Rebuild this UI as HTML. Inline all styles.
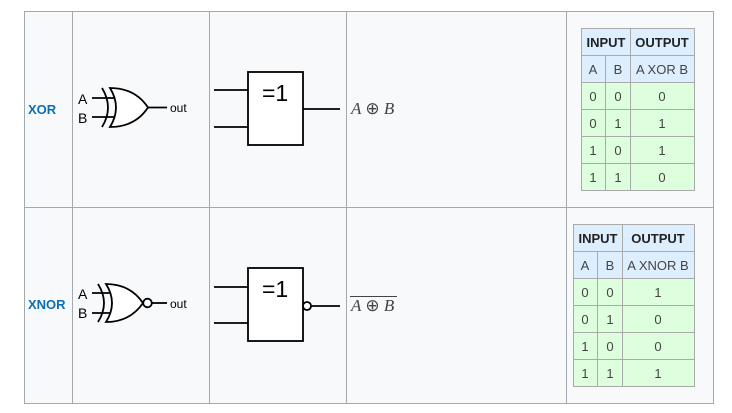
<!DOCTYPE html>
<html><head><meta charset="utf-8"><style>
html,body{margin:0;padding:0;background:#fff;}
svg{display:block;font-family:"Liberation Sans",sans-serif;}
</style></head><body>
<svg width="732" height="413" viewBox="0 0 732 413">
<g fill="#f8f9fa" stroke="#a2a9b1" stroke-width="1">
<rect x="24.5" y="11.5" width="689" height="196"/>
<rect x="24.5" y="207.5" width="689" height="196"/>
<line x1="72.5" y1="11" x2="72.5" y2="404"/>
<line x1="209.5" y1="11" x2="209.5" y2="404"/>
<line x1="346.5" y1="11" x2="346.5" y2="404"/>
<line x1="566.5" y1="11" x2="566.5" y2="404"/>
</g>

<!-- XOR row -->
<text x="28" y="114" font-size="13" font-weight="bold" fill="#0b6fb5">XOR</text>
<g stroke="#000" stroke-width="1.8" fill="none">
<line x1="92" y1="98" x2="116" y2="98"/><line x1="92" y1="117" x2="116" y2="117"/>
<path d="M102,88 Q114,107.5 102,127"/>
<path d="M110,88 Q135,88 148,107.5 Q135,127 110,127 Q122,107.5 110,88 Z" fill="#fff"/>
<line x1="148" y1="107.5" x2="167" y2="107.5"/>
</g>
<text x="78" y="104" font-size="14">A</text>
<text x="78" y="123" font-size="14">B</text>
<text x="170" y="112" font-size="12">out</text>
<g stroke="#000" stroke-width="1.8" fill="none">
<rect x="248" y="72" width="55" height="73" fill="#fff"/>
<line x1="214" y1="90" x2="248" y2="90"/><line x1="214" y1="127" x2="248" y2="127"/>
<line x1="303" y1="109" x2="340" y2="109"/>
</g>
<text x="262" y="101" font-size="23">=1</text>
<text x="351" y="114" font-size="17" font-family="Liberation Serif,serif" font-style="italic" fill="#444">A <tspan font-style="normal">⊕</tspan> B</text>

<g font-size="13" text-anchor="middle" fill="#444">
<rect x="581.5" y="28.5" width="113" height="54" fill="#ddeeff" stroke="#aaa"/>
<rect x="581.5" y="82.5" width="113" height="108" fill="#ddffdd" stroke="#aaa"/>
<g stroke="#aaa"><line x1="581" y1="55.5" x2="695" y2="55.5"/><line x1="581" y1="109.5" x2="695" y2="109.5"/><line x1="581" y1="136.5" x2="695" y2="136.5"/><line x1="581" y1="163.5" x2="695" y2="163.5"/><line x1="630.5" y1="28" x2="630.5" y2="191"/><line x1="605.5" y1="55" x2="605.5" y2="191"/></g>
<text x="606" y="47" font-weight="bold" fill="#222">INPUT</text><text x="662" y="47" font-weight="bold" fill="#222">OUTPUT</text>
<text x="593" y="74">A</text><text x="618" y="74">B</text><text x="662" y="74">A XOR B</text>
<text x="593" y="101">0</text><text x="618" y="101">0</text><text x="662" y="101">0</text>
<text x="593" y="128">0</text><text x="618" y="128">1</text><text x="662" y="128">1</text>
<text x="593" y="155">1</text><text x="618" y="155">0</text><text x="662" y="155">1</text>
<text x="593" y="182">1</text><text x="618" y="182">1</text><text x="662" y="182">0</text>
</g>

<!-- XNOR row -->
<text x="28" y="309" font-size="13" font-weight="bold" fill="#0b6fb5">XNOR</text>
<g stroke="#000" stroke-width="1.8" fill="none">
<line x1="92" y1="293" x2="112" y2="293"/><line x1="92" y1="313" x2="112" y2="313"/>
<path d="M98,284 Q110,303 98,322"/>
<path d="M106,284 Q130,284 143,303 Q130,322 106,322 Q118,303 106,284 Z" fill="#fff"/>
<circle cx="147.5" cy="303" r="4.3" fill="#fff"/>
<line x1="152" y1="303" x2="167" y2="303"/>
</g>
<text x="78" y="299" font-size="14">A</text>
<text x="78" y="318" font-size="14">B</text>
<text x="170" y="308" font-size="12">out</text>
<g stroke="#000" stroke-width="1.8" fill="none">
<rect x="248" y="268" width="55" height="73" fill="#fff"/>
<line x1="214" y1="287" x2="248" y2="287"/><line x1="214" y1="323" x2="248" y2="323"/>
<circle cx="307" cy="306" r="4" fill="#fff"/>
<line x1="311" y1="306" x2="340" y2="306"/>
</g>
<text x="262" y="297" font-size="23">=1</text>
<line x1="350" y1="296.5" x2="397" y2="296.5" stroke="#444" stroke-width="1"/>
<text x="351" y="311" font-size="17" font-family="Liberation Serif,serif" font-style="italic" fill="#444">A <tspan font-style="normal">⊕</tspan> B</text>

<g font-size="13" text-anchor="middle" fill="#444">
<rect x="573.5" y="224.5" width="121" height="54" fill="#ddeeff" stroke="#aaa"/>
<rect x="573.5" y="278.5" width="121" height="108" fill="#ddffdd" stroke="#aaa"/>
<g stroke="#aaa"><line x1="573" y1="251.5" x2="695" y2="251.5"/><line x1="573" y1="305.5" x2="695" y2="305.5"/><line x1="573" y1="332.5" x2="695" y2="332.5"/><line x1="573" y1="359.5" x2="695" y2="359.5"/><line x1="622.5" y1="224" x2="622.5" y2="387"/><line x1="597.5" y1="251" x2="597.5" y2="387"/></g>
<text x="598" y="243" font-weight="bold" fill="#222">INPUT</text><text x="658" y="243" font-weight="bold" fill="#222">OUTPUT</text>
<text x="585" y="270">A</text><text x="610" y="270">B</text><text x="658" y="270">A XNOR B</text>
<text x="585" y="297">0</text><text x="610" y="297">0</text><text x="658" y="297">1</text>
<text x="585" y="324">0</text><text x="610" y="324">1</text><text x="658" y="324">0</text>
<text x="585" y="351">1</text><text x="610" y="351">0</text><text x="658" y="351">0</text>
<text x="585" y="378">1</text><text x="610" y="378">1</text><text x="658" y="378">1</text>
</g>
</svg>
</body></html>
